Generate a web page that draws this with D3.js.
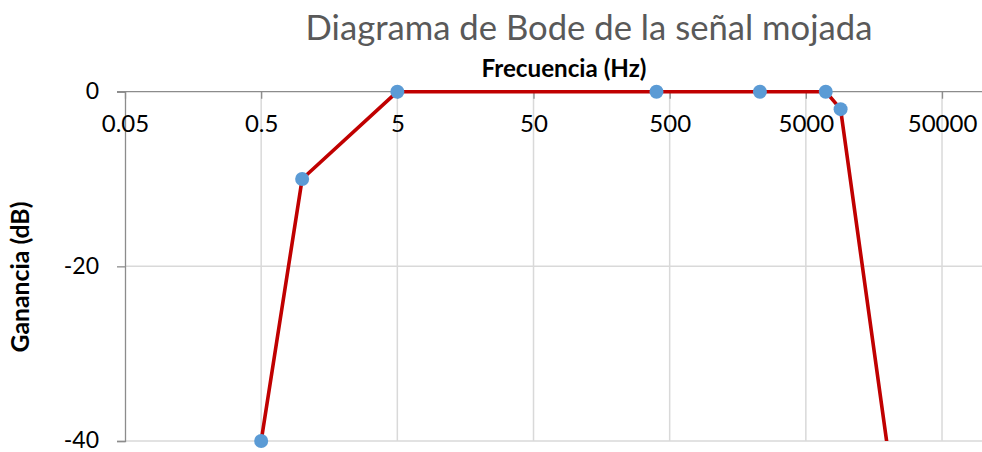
<!DOCTYPE html>
<html>
<head>
<meta charset="utf-8">
<script src="https://cdn.jsdelivr.net/npm/d3@7/dist/d3.min.js"></script>
<style>
  html, body { margin: 0; padding: 0; background: #fff; }
  svg { display: block; }
  text { font-family: Lato, "Open Sans", sans-serif; }
</style>
</head>
<body>
<svg id="chart" width="982" height="452"></svg>
<script>
// Bode magnitude response of the wet signal
const frequencies = [0.5, 1, 5, 400, 2300, 7000, 9000, 20000]; // Hz
const gains = [-40, -10, 0, 0, 0, 0, -2, -41];                // dB
const freqTicks = [0.05, 0.5, 5, 50, 500, 5000, 50000];
const freqTickLabels = ["0.05", "0.5", "5", "50", "500", "5000", "50000"];
const gainTicks = [0, -20, -40];
const gainTickLabels = ["0", "-20", "-40"];

const points = frequencies.map((f, i) => ({ f, g: gains[i] }));

const svg = d3.select("#chart");
const W = 982, H = 452;
const plot = { left: 125, right: 983, top: 91.7, bottom: 441 };

const x = d3.scaleLog().domain([0.05, 100000]).range([plot.left, plot.right]);
const y = d3.scaleLinear().domain([-40, 0]).range([plot.bottom, plot.top]);

const gridColor = "#d9d9d9";
const axisColor = "#8c8c8c";

// Size a text element so that its rendered width equals `w`
function fitWidth(sel, w) {
  const node = sel.node();
  const fs = parseFloat(sel.attr("font-size"));
  const len = node.getComputedTextLength();
  if (len > 0) sel.attr("font-size", (fs * w / len).toFixed(2));
}

// Horizontal gridlines
svg.append("g")
  .selectAll("line")
  .data(gainTicks.filter(t => t !== 0))
  .join("line")
  .attr("x1", plot.left).attr("x2", W)
  .attr("y1", d => y(d)).attr("y2", d => y(d))
  .attr("stroke", gridColor).attr("stroke-width", 1.5);

// Vertical gridlines
svg.append("g")
  .selectAll("line")
  .data(freqTicks.filter(t => t !== 0.05))
  .join("line")
  .attr("x1", d => x(d)).attr("x2", d => x(d))
  .attr("y1", plot.top).attr("y2", plot.bottom)
  .attr("stroke", gridColor).attr("stroke-width", 1.5);

// Gain axis (left)
const yAxis = svg.append("g")
  .attr("transform", `translate(${plot.left},0)`)
  .call(d3.axisLeft(y).tickValues(gainTicks).tickSize(8).tickPadding(18)
    .tickFormat((d, i) => gainTickLabels[i]));
yAxis.select(".domain").attr("stroke", axisColor).attr("stroke-width", 1.3);
yAxis.selectAll(".tick line").attr("stroke", axisColor).attr("stroke-width", 1.3);
yAxis.selectAll(".tick text")
  .attr("font-size", 23).attr("fill", "#000")
  .attr("dy", "0.3em")
  .attr("font-family", "Lato, sans-serif");

// Frequency axis, crossing at 0 dB
const xAxis = svg.append("g")
  .attr("transform", `translate(0,${plot.top})`)
  .call(d3.axisBottom(x).tickValues(freqTicks).tickSize(7).tickPadding(16)
    .tickFormat((d, i) => freqTickLabels[i]));
xAxis.select(".domain").attr("stroke", axisColor).attr("stroke-width", 1.3)
  .attr("d", `M${plot.left - 8},0H${W}`);
xAxis.selectAll(".tick line").attr("stroke", axisColor).attr("stroke-width", 1.3);
xAxis.selectAll(".tick text")
  .attr("font-size", 24).attr("fill", "#000")
  .attr("font-family", "Lato, sans-serif");

// Response curve, clipped to the plot area
svg.append("clipPath").attr("id", "plotClip")
  .append("rect")
  .attr("x", plot.left).attr("y", 0)
  .attr("width", W - plot.left).attr("height", plot.bottom);

const line = d3.line().x(d => x(d.f)).y(d => y(d.g));
svg.append("path")
  .datum(points)
  .attr("clip-path", "url(#plotClip)")
  .attr("d", line)
  .attr("fill", "none")
  .attr("stroke", "#c00000")
  .attr("stroke-width", 3.6)
  .attr("stroke-linejoin", "round");

// Markers for points inside the gain range
svg.append("g")
  .selectAll("circle")
  .data(points.filter(d => d.g >= -40 && d.g <= 0))
  .join("circle")
  .attr("cx", d => x(d.f)).attr("cy", d => y(d.g))
  .attr("r", 7)
  .attr("fill", "#5b9bd5");

// Chart title
const title = svg.append("text")
  .attr("x", 589).attr("y", 40)
  .attr("text-anchor", "middle")
  .attr("font-size", 30)
  .attr("font-weight", 400)
  .attr("fill", "#595959")
  .text("Diagrama de Bode de la señal mojada");
fitWidth(title, 567);

// Axis titles
const xTitle = svg.append("text")
  .attr("x", 564).attr("y", 77)
  .attr("text-anchor", "middle")
  .attr("font-size", 20)
  .attr("font-weight", 700)
  .attr("fill", "#000")
  .text("Frecuencia (Hz)");
fitWidth(xTitle, 165);

const yTitle = svg.append("text")
  .attr("transform", "translate(29,277) rotate(-90)")
  .attr("text-anchor", "middle")
  .attr("font-size", 20)
  .attr("font-weight", 700)
  .attr("fill", "#000")
  .text("Ganancia (dB)");
fitWidth(yTitle, 151);
</script>
</body>
</html>
